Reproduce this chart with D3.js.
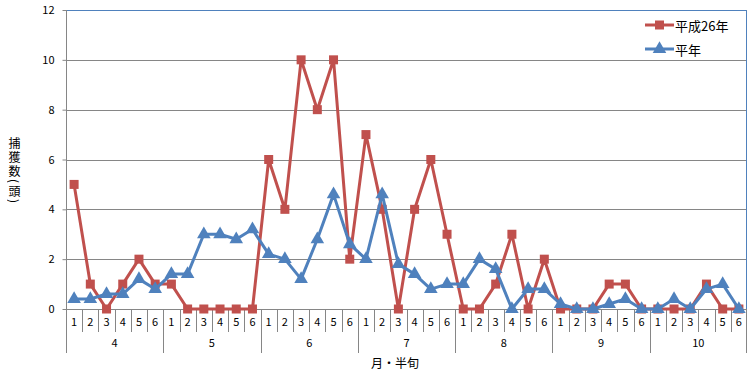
<!DOCTYPE html>
<html>
<head>
<meta charset="utf-8">
<script src="https://cdnjs.cloudflare.com/ajax/libs/d3/7.8.5/d3.min.js"></script>
<style>
  body { margin: 0; background: #fff; }
  text { font-family: "Noto Sans CJK JP", "DejaVu Sans", sans-serif; }
  .ytitle {
    font-family: "Noto Sans CJK JP", sans-serif;
    font-size: 12px;
    line-height: 14px;
    writing-mode: vertical-rl;
    letter-spacing: 2px;
    color: #000;
  }
</style>
</head>
<body>
<svg id="drawing_LineChart"></svg>
<script>
const months = ["4", "5", "6", "7", "8", "9", "10"];
const halves = ["1", "2", "3", "4", "5", "6"];
const y_ticks = [0, 2, 4, 6, 8, 10, 12];

const series_names = ["平成26年", "平年"];
const y_title = "捕獲数(頭)";
const x_title = "月・半旬";
const h26 = [5, 1, 0, 1, 2, 1,
             1, 0, 0, 0, 0, 0,
             6, 4, 10, 8, 10, 2,
             7, 4, 0, 4, 6, 3,
             0, 0, 1, 3, 0, 2,
             0, 0, 0, 1, 1, 0,
             0, 0, 0, 1, 0, 0];
const normal = [0.4, 0.4, 0.6, 0.6, 1.2, 0.8,
                1.4, 1.4, 3.0, 3.0, 2.8, 3.2,
                2.2, 2.0, 1.2, 2.8, 4.6, 2.6,
                2.0, 4.6, 1.8, 1.4, 0.8, 1.0,
                1.0, 2.0, 1.6, 0, 0.8, 0.8,
                0.2, 0, 0, 0.2, 0.4, 0,
                0, 0.4, 0, 0.8, 1.0, 0];

const config = {
    parent: '#drawing_LineChart',
    width: 756,
    height: 379,
    margin: {top:10, right:9, bottom:70, left:66}
};

const red = "#C0504D";
const blue = "#4F81BD";
const grid = "#868686";

// categories: month-half pairs
const cats = [];
months.forEach(m => halves.forEach(h => cats.push(m + "-" + h)));

const svg = d3.select(config.parent)
    .attr('width', config.width)
    .attr('height', config.height);

const inner_width = config.width - config.margin.left - config.margin.right;
const inner_height = config.height - config.margin.top - config.margin.bottom;

const chart = svg.append('g')
    .attr('transform', `translate(${config.margin.left}, ${config.margin.top})`);

const xscale = d3.scaleBand()
    .domain(cats)
    .range([0, inner_width]);

const yscale = d3.scaleLinear()
    .domain([0, 12])
    .range([inner_height, 0]);

// gridlines
chart.append('g').selectAll('line')
    .data(y_ticks)
    .enter()
    .append('line')
    .attr('x1', 0)
    .attr('x2', inner_width)
    .attr('y1', d => Math.round(yscale(d)) + 0.5)
    .attr('y2', d => Math.round(yscale(d)) + 0.5)
    .attr('stroke', grid)
    .attr('stroke-width', 1);

// plot area border (top & right)
chart.append('path')
    .attr('d', `M0,0.5 H${inner_width - 0.5} V${inner_height}`)
    .attr('fill', 'none')
    .attr('stroke', blue)
    .attr('stroke-width', 1);

// y axis
const yaxis = d3.axisLeft(yscale)
    .tickValues(y_ticks)
    .tickSize(4)
    .tickPadding(8);

const yaxis_group = chart.append('g')
    .attr('transform', 'translate(0.5, 0)')
    .call(yaxis);
yaxis_group.select('.domain').remove();
yaxis_group.selectAll('.tick line')
    .attr('stroke', grid);
yaxis_group.selectAll('.tick text')
    .attr('font-size', '11px')
    .attr('fill', '#000')
    .style('font-family', '"Noto Sans CJK JP", sans-serif');

// left axis line extends down through category labels
chart.append('line')
    .attr('x1', 0.5).attr('x2', 0.5)
    .attr('y1', 0).attr('y2', inner_height + 44)
    .attr('stroke', grid);

// category separators
const bw = xscale.bandwidth();
chart.append('g').selectAll('line')
    .data(cats.slice(1))
    .enter()
    .append('line')
    .attr('x1', d => Math.round(xscale(d)) + 0.5)
    .attr('x2', d => Math.round(xscale(d)) + 0.5)
    .attr('y1', inner_height)
    .attr('y2', (d, i) => ((i + 1) % 6 === 0) ? inner_height + 44 : inner_height + 23)
    .attr('stroke', grid);

chart.append('line')
    .attr('x1', inner_width - 0.5).attr('x2', inner_width - 0.5)
    .attr('y1', inner_height).attr('y2', inner_height + 44)
    .attr('stroke', grid);

// half labels
chart.append('g').selectAll('text')
    .data(cats)
    .enter()
    .append('text')
    .attr('x', d => xscale(d) + bw / 2)
    .attr('y', inner_height + 17)
    .attr('text-anchor', 'middle')
    .attr('font-size', '11px')
    .text(d => d.split('-')[1]);

// month labels
chart.append('g').selectAll('text')
    .data(months)
    .enter()
    .append('text')
    .attr('x', d => xscale(d + "-1") + bw * 3)
    .attr('y', inner_height + 38)
    .attr('text-anchor', 'middle')
    .attr('font-size', '11px')
    .text(d => d);

// axis titles
svg.append('text')
    .attr('x', 395)
    .attr('y', 368)
    .attr('text-anchor', 'middle')
    .attr('font-size', '12px')
    .text(x_title);

// vertical y title (html vertical writing)
svg.append('foreignObject')
    .attr('x', 7)
    .attr('y', 137)
    .attr('width', 16)
    .attr('height', 80)
    .append('xhtml:div')
    .attr('class', 'ytitle')
    .text(y_title);

// lines
const line = d3.line()
    .x((d, i) => xscale(cats[i]) + bw / 2)
    .y(d => yscale(d));

const tri = d3.symbol().type(d3.symbolTriangle).size(80);

function drawSeries(values, color, marker) {
    const g = chart.append('g');
    g.append('path')
        .datum(values)
        .attr('d', line)
        .attr('fill', 'none')
        .attr('stroke', color)
        .attr('stroke-width', 3)
        .attr('stroke-linejoin', 'round');
    if (marker === 'square') {
        g.selectAll('rect')
            .data(values)
            .enter()
            .append('rect')
            .attr('x', (d, i) => xscale(cats[i]) + bw / 2 - 4.5)
            .attr('y', d => yscale(d) - 4.5)
            .attr('width', 9)
            .attr('height', 9)
            .attr('fill', color);
    } else {
        g.selectAll('path.mk')
            .data(values)
            .enter()
            .append('path')
            .attr('class', 'mk')
            .attr('d', tri)
            .attr('transform', (d, i) => `translate(${xscale(cats[i]) + bw / 2}, ${yscale(d)})`)
            .attr('fill', color);
    }
}

drawSeries(h26, red, 'square');
drawSeries(normal, blue, 'triangle');

// legend
const legend = svg.append('g');
const legend_items = [
    {name: series_names[0], color: red, marker: 'square', y: 25},
    {name: series_names[1], color: blue, marker: 'triangle', y: 49}
];
legend_items.forEach(d => {
    legend.append('line')
        .attr('x1', 645).attr('x2', 674)
        .attr('y1', d.y).attr('y2', d.y)
        .attr('stroke', d.color)
        .attr('stroke-width', 3);
    if (d.marker === 'square') {
        legend.append('rect')
            .attr('x', 655).attr('y', d.y - 4.5)
            .attr('width', 9).attr('height', 9)
            .attr('fill', d.color);
    } else {
        legend.append('path')
            .attr('d', tri)
            .attr('transform', `translate(659.5, ${d.y})`)
            .attr('fill', d.color);
    }
    legend.append('text')
        .attr('x', 675)
        .attr('y', d.y)
        .attr('dominant-baseline', 'central')
        .attr('font-size', '13px')
        .text(d.name);
});
</script>
</body>
</html>
